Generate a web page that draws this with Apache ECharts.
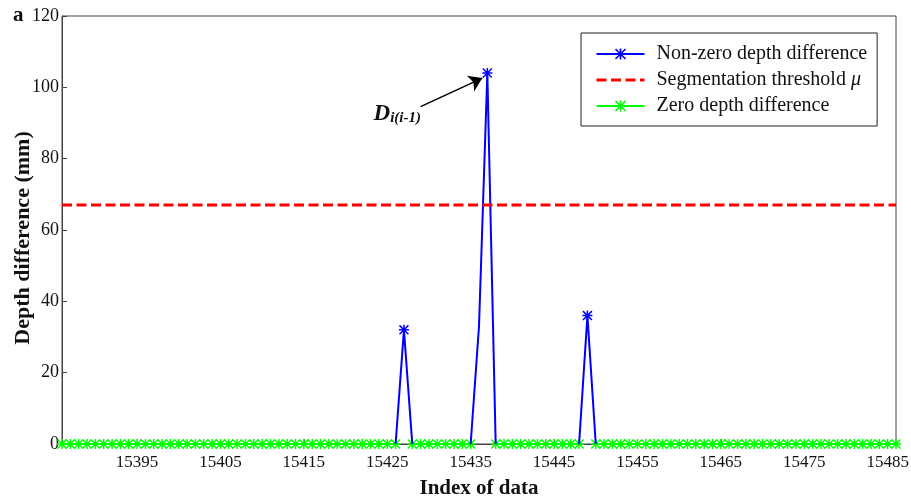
<!DOCTYPE html>
<html>
<head>
<meta charset="utf-8">
<script src="https://cdn.jsdelivr.net/npm/echarts@6/dist/echarts.min.js"></script>
<style>
  html, body { margin: 0; padding: 0; background: #fff; }
  #main { width: 911px; height: 499px; }
</style>
</head>
<body>
<div id="main"></div>
<script>
// x range and tick labels
const xMin = 15386;
const xMax = 15486;
const xTicks = [15395, 15405, 15415, 15425, 15435, 15445, 15455, 15465, 15475, 15485];

// zero depth difference, one value per index from xMin (null = gap)
const zeroVals = [
  0, 0, 0, 0, 0, 0, 0, 0, 0, 0,
  0, 0, 0, 0, 0, 0, 0, 0, 0, 0,
  0, 0, 0, 0, 0, 0, 0, 0, 0, 0,
  0, 0, 0, 0, 0, 0, 0, 0, 0, 0,
  0, null, 0, 0, 0, 0, 0, 0, 0, 0,
  null, null, 0, 0, 0, 0, 0, 0, 0, 0,
  0, 0, 0, null, 0, 0, 0, 0, 0, 0,
  0, 0, 0, 0, 0, 0, 0, 0, 0, 0,
  0, 0, 0, 0, 0, 0, 0, 0, 0, 0,
  0, 0, 0, 0, 0, 0, 0, 0, 0, 0,
  0
];

// non-zero depth difference (null breaks the line)
const nzIdx  = [15426, 15427, 15428, 15432, 15435, 15436, 15437, 15438, 15443, 15448, 15449, 15450];
const nzVals = [0, 32, 0, null, 0, 33, 104, 0, null, 0, 36, 0];
const peakIdx = [15427, 15437, 15449];

// segmentation threshold
const threshold = 67;

// annotation arrow (tail, head) and label anchor
const arrowFrom = [15429, 94.6];
const arrowTo = [15436.4, 102.6];
const labelAt = [15426.2, 92.5];

const star = 'path://M8.5 0H11.5V20H8.5Z M0 8.5H20V11.5H0Z M0 2.1L2.1 0L20 17.9L17.9 20Z M17.9 0L20 2.1L2.1 20L0 17.9Z';
const serif = '"Liberation Serif", "Times New Roman", serif';

const zeroData = zeroVals.map((v, i) => [xMin + i, v]);
const nzData = nzIdx.map((x, i) => ({
  value: [x, nzVals[i]],
  symbol: peakIdx.includes(x) ? star : 'none'
}));

const chart = echarts.init(document.getElementById('main'));
chart.setOption({
  animation: false,
  textStyle: { fontFamily: serif },
  grid: {
    left: 62, right: 15, top: 16, bottom: 55,
    outerBoundsMode: 'none',
    containLabel: false,
    show: true, borderColor: '#444', borderWidth: 1
  },
  legend: {
    orient: 'vertical',
    left: 581, top: 33,
    padding: [11, 10, 10, 14],
    itemWidth: 48, itemHeight: 14, itemGap: 6,
    backgroundColor: '#fff',
    borderColor: '#222', borderWidth: 1,
    textStyle: {
      fontFamily: serif, fontSize: 20, lineHeight: 20, color: '#111', padding: [0, 0, 0, 7],
      rich: { i: { fontFamily: serif, fontSize: 20, fontStyle: 'italic', color: '#111' } }
    },
    formatter: n => n === 'Segmentation threshold' ? 'Segmentation threshold {i|μ}' : n,
    data: [
      'Non-zero depth difference',
      { name: 'Segmentation threshold', itemStyle: { opacity: 0 }, lineStyle: { width: 3 } },
      'Zero depth difference'
    ]
  },
  xAxis: {
    type: 'value', min: xMin, max: xMax,
    name: 'Index of data', nameLocation: 'middle', nameGap: 34,
    nameTextStyle: { fontFamily: serif, fontSize: 21, fontWeight: 'bold', color: '#111' },
    axisLine: { onZero: false, lineStyle: { color: '#444', width: 1 } },
    axisTick: { inside: true, length: 5, customValues: xTicks, lineStyle: { color: '#444' } },
    axisLabel: { customValues: xTicks, formatter: v => String(v), fontSize: 17, color: '#111', margin: 10, fontFamily: serif },
    splitLine: { show: false }
  },
  yAxis: {
    type: 'value', min: 0, max: 120, interval: 20,
    name: 'Depth difference (mm)', nameLocation: 'middle', nameGap: 28,
    nameMoveOverlap: false,
    nameTextStyle: { fontFamily: serif, fontSize: 22, fontWeight: 'bold', color: '#111', padding: [0, 16, 0, 0] },
    axisLine: { show: true, lineStyle: { color: '#444', width: 1 } },
    axisTick: { show: true, inside: true, length: 5, lineStyle: { color: '#444' } },
    axisLabel: { fontSize: 18, color: '#111', margin: 3, fontFamily: serif },
    splitLine: { show: false }
  },
  graphic: [{
    type: 'text', left: 13, top: 5,
    style: { text: 'a', font: 'bold 21px ' + serif, fill: '#111' }
  }],
  series: [
    {
      name: 'Zero depth difference',
      type: 'line',
      data: zeroData,
      symbol: star, symbolSize: 10,
      itemStyle: { color: '#00ff00' },
      lineStyle: { color: '#00ff00', width: 2 },
      connectNulls: false,
      silent: true, z: 2
    },
    {
      name: 'Non-zero depth difference',
      type: 'line',
      data: nzData,
      symbol: star, symbolSize: 10,
      itemStyle: { color: '#0000ff' },
      lineStyle: { color: '#0000ff', width: 2 },
      connectNulls: false,
      silent: true, z: 3,
      markLine: {
        silent: true,
        symbol: ['none', 'arrow'], symbolSize: 13,
        lineStyle: { color: '#000', width: 1.5, type: 'solid' },
        itemStyle: { color: '#000' },
        label: { show: false },
        emphasis: { disabled: true },
        data: [[{ coord: arrowFrom }, { coord: arrowTo }]]
      },
      markPoint: {
        silent: true,
        symbol: 'circle', symbolSize: 0,
        data: [{ coord: labelAt }],
        label: {
          show: true, position: 'inside',
          formatter: '{d|D}{s|i(i-1)}',
          rich: {
            d: { fontFamily: serif, fontSize: 23, fontWeight: 'bold', fontStyle: 'italic', color: '#111' },
            s: { fontFamily: serif, fontSize: 15, fontWeight: 'bold', fontStyle: 'italic', color: '#111', padding: [8, 0, 0, 0] }
          }
        }
      }
    },
    {
      name: 'Segmentation threshold',
      type: 'line',
      data: [[xMin, threshold], [xMax, threshold]],
      symbol: 'none',
      itemStyle: { color: '#ff0000' },
      lineStyle: { color: '#ff0000', width: 3, type: [10, 4.5] },
      silent: true, z: 4
    }
  ]
});
</script>
</body>
</html>
